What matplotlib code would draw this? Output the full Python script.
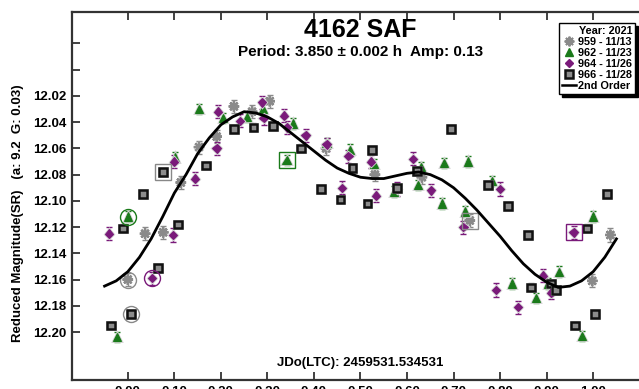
import matplotlib
matplotlib.use('Agg')
import matplotlib.pyplot as plt
from matplotlib.lines import Line2D
import matplotlib.patheffects as pe

plt.rcParams['font.family'] = ['Liberation Sans', 'DejaVu Sans']
plt.rcParams['font.weight'] = 'bold'

# ---------------- data ----------------
title = "4162 SAF"
subtitle = "Period: 3.850 \u00b1 0.002 h  Amp: 0.13"
jd_text = "JDo(LTC): 2459531.534531"
ylabel = "Reduced Magnitude(SR)   (a: 9.2  G: 0.03)"
legend_title = "Year: 2021"
series_labels = ["959 - 11/13", "962 - 11/23", "964 - 11/26", "966 - 11/28"]
fit_label = "2nd Order"

x_ticks = [0.0, 0.1, 0.2, 0.3, 0.4, 0.5, 0.6, 0.7, 0.8, 0.9, 1.0]
y_ticks = [11.98, 12.00, 12.02, 12.04, 12.06, 12.08, 12.10, 12.12, 12.14, 12.16, 12.18, 12.20]
y_tick_labels = ["", "", "12.02", "12.04", "12.06", "12.08", "12.10", "12.12",
                 "12.14", "12.16", "12.18", "12.20"]

# first point of each session = circled, last = boxed
s959_phase = [0.000, 0.037, 0.076, 0.114, 0.153, 0.191, 0.228, 0.267, 0.305,
              0.426, 0.531, 0.632, 0.998, 1.037, 0.735]
s959_mag = [12.160, 12.125, 12.124, 12.086, 12.059, 12.051, 12.028, 12.032, 12.024,
            12.060, 12.080, 12.082, 12.161, 12.126, 12.115]

s962_phase = [0.000, -0.023, 0.101, 0.153, 0.204, 0.256, 0.291, 0.355, 0.427, 0.477,
              0.529, 0.572, 0.624, 0.630, 0.675, 0.680, 0.725, 0.731, 0.783, 0.826,
              0.877, 0.903, 0.927, 0.976, 1.000, 0.341]
s962_mag = [12.112, 12.204, 12.067, 12.030, 12.037, 12.036, 12.030, 12.041, 12.056, 12.061,
            12.072, 12.093, 12.088, 12.074, 12.102, 12.071, 12.108, 12.070, 12.085, 12.163,
            12.174, 12.163, 12.154, 12.203, 12.112, 12.069]

s964_phase = [0.052, -0.041, 0.097, 0.099, 0.144, 0.191, 0.194, 0.241, 0.288, 0.292,
              0.336, 0.342, 0.382, 0.427, 0.460, 0.474, 0.522, 0.533, 0.578, 0.613,
              0.651, 0.721, 0.791, 0.800, 0.838, 0.892, 0.910, 0.958]
s964_mag = [12.159, 12.125, 12.126, 12.070, 12.083, 12.060, 12.032, 12.039, 12.025, 12.037,
            12.035, 12.044, 12.050, 12.057, 12.090, 12.066, 12.070, 12.096, 12.091, 12.068,
            12.092, 12.120, 12.168, 12.091, 12.181, 12.157, 12.170, 12.124]

s966_phase = [0.006, -0.037, -0.011, 0.032, 0.065, 0.107, 0.168, 0.228, 0.270, 0.312,
              0.372, 0.415, 0.457, 0.483, 0.515, 0.525, 0.578, 0.621, 0.695, 0.774,
              0.817, 0.860, 0.867, 0.909, 0.920, 0.961, 0.987, 1.004, 1.030, 0.076]
s966_mag = [12.186, 12.195, 12.121, 12.095, 12.151, 12.118, 12.073, 12.045, 12.044, 12.043,
            12.060, 12.091, 12.099, 12.075, 12.102, 12.061, 12.090, 12.077, 12.045, 12.088,
            12.104, 12.126, 12.166, 12.163, 12.168, 12.195, 12.121, 12.186, 12.095, 12.078]

err959 = 0.005
err962 = 0.004
err964 = 0.005
err966 = 0.003

fit_phase = [-0.05, -0.025, 0.0, 0.025, 0.05, 0.075, 0.10, 0.125, 0.15, 0.175, 0.20,
             0.225, 0.25, 0.275, 0.30, 0.325, 0.35, 0.375, 0.40, 0.425, 0.45, 0.475,
             0.50, 0.525, 0.55, 0.575, 0.60, 0.625, 0.65, 0.675, 0.70, 0.725, 0.75,
             0.775, 0.80, 0.825, 0.85, 0.875, 0.90, 0.925, 0.95, 0.975, 1.00, 1.025, 1.05]
fit_mag = [12.165, 12.161, 12.154, 12.143, 12.129, 12.112, 12.094, 12.080, 12.064, 12.052,
           12.042, 12.036, 12.032, 12.033, 12.036, 12.041, 12.048, 12.055, 12.062, 12.069,
           12.075, 12.079, 12.082, 12.083, 12.083, 12.081, 12.079, 12.078, 12.080, 12.084,
           12.090, 12.098, 12.107, 12.117, 12.127, 12.138, 12.148, 12.156, 12.162, 12.166,
           12.165, 12.161, 12.154, 12.143, 12.129]

# ---------------- figure ----------------
W, H = 639, 389
fig = plt.figure(figsize=(W / 100, H / 100), dpi=100)
ax = fig.add_axes([72 / W, (H - 380) / H, (649 - 72) / W, (380 - 12) / H])

halo = [pe.withStroke(linewidth=2.0, foreground='#d2d2d2')]

c959 = '#8a8a8a'
c962 = '#1a7a1a'
c964 = '#7a1a7a'
c966 = '#111111'

styles = [
    (s959_phase, s959_mag, err959, dict(marker=(8, 2, 0), ms=7.5, mec=c959, mfc=c959, mew=1.5), c959, c959),
    (s962_phase, s962_mag, err962, dict(marker='^', ms=6.0, mec=c962, mfc=c962, mew=0.8), c962, c962),
    (s964_phase, s964_mag, err964, dict(marker='D', ms=4.3, mec=c964, mfc=c964, mew=0.8), c964, c964),
    (s966_phase, s966_mag, err966, dict(marker='s', ms=5.6, mec=c966, mfc='#8c8c8c', mew=1.8), '#888888', '#888888'),
]

for ph, mg, er, mk, ecol, hcol in styles:
    ax.errorbar(ph, mg, yerr=er, fmt='none', ecolor=ecol, elinewidth=1.0,
                capsize=2.5, capthick=1.0, zorder=3)
    ln, = ax.plot(ph, mg, linestyle='none', zorder=4, **mk)
    ln.set_path_effects(halo)
    # first point circled, last point boxed
    ax.plot(ph[0], mg[0], linestyle='none', marker='o', ms=11.5, mfc='none',
            mec=hcol, mew=1.0, zorder=5)
    ax.plot(ph[-1], mg[-1], linestyle='none', marker='s', ms=11.5, mfc='none',
            mec=hcol, mew=1.0, zorder=5)

ax.plot(fit_phase, fit_mag, color='black', lw=2.0, zorder=6)

ax.set_xlim(-0.12, 1.12)
ax.set_ylim(12.2366, 11.956)
ax.set_xticks(x_ticks)
ax.set_xticklabels(["%.2f" % v for v in x_ticks])
ax.set_yticks(y_ticks)
ax.set_yticklabels(y_tick_labels)
ax.tick_params(direction='in', length=6, width=1.3, color='#333333',
               labelsize=9.5, top=True, pad=4)
for lab in ax.get_xticklabels() + ax.get_yticklabels():
    lab.set_fontweight('bold')
for sp in ax.spines.values():
    sp.set_linewidth(1.6)
    sp.set_color('#333333')

fig.text(360 / W, 1 - 30 / H, title, ha='center', va='center', fontsize=18, fontweight='bold')
fig.text(361 / W, 1 - 52 / H, subtitle, ha='center', va='center', fontsize=11, fontweight='bold')
fig.text(360 / W, 1 - 363 / H, jd_text, ha='center', va='center', fontsize=9.5, fontweight='bold')
fig.text(18 / W, 1 - 213 / H, ylabel, ha='center', va='center', rotation=90,
         fontsize=9.5, fontweight='bold')

handles = [
    Line2D([], [], linestyle='none', marker=(8, 2, 0), ms=7, mec=c959, mfc=c959, mew=1.4),
    Line2D([], [], linestyle='none', marker='^', ms=6, mec=c962, mfc=c962),
    Line2D([], [], linestyle='none', marker='D', ms=4.3, mec=c964, mfc=c964),
    Line2D([], [], linestyle='none', marker='s', ms=5.6, mec=c966, mfc='#8c8c8c', mew=1.8),
    Line2D([], [], color='black', lw=1.8),
]
leg = fig.legend(handles, series_labels + [fit_label], title=legend_title,
                 loc='upper right', bbox_to_anchor=(635 / W, 1 - 23 / H),
                 fontsize=7.8, title_fontproperties={'weight': 'bold', 'size': 7.8},
                 frameon=True, fancybox=False, shadow={'color': 'black', 'alpha': 1.0, 'ox': 2, 'oy': -2},
                 edgecolor='black', framealpha=1.0, handlelength=1.3, handletextpad=0.2,
                 borderpad=0.25, labelspacing=0.1, borderaxespad=0, alignment='right')
leg.get_frame().set_linewidth(1.0)
for t in leg.get_texts():
    t.set_fontweight('bold')

fig.savefig('out.png', dpi=100)
